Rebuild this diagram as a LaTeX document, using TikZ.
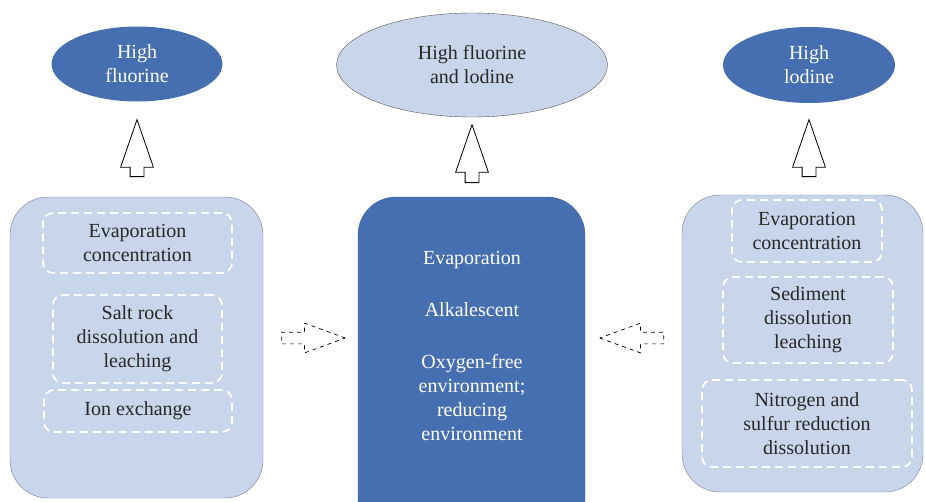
\documentclass[tikz,border=0pt]{standalone}
\usepackage{fontspec}
\setmainfont{Liberation Serif}
\newfontfamily\timesfont{Liberation Serif}
\usetikzlibrary{shapes.geometric,shapes.arrows}
\definecolor{darkfill}{RGB}{70,111,177}
\definecolor{lightfill}{RGB}{201,213,234}
\definecolor{boxedge}{RGB}{120,130,150}
\definecolor{textgray}{RGB}{40,40,40}
\begin{document}
\begin{tikzpicture}[x=1pt,y=-1pt,
  every node/.style={font=\timesfont\fontsize{20}{24}\selectfont,align=center},
  lightbox/.style={draw=boxedge,fill=lightfill,rounded corners=38pt},
  darkbox/.style={draw=darkfill!92!black,fill=darkfill,rounded corners=38pt},
  dashbox/.style={draw=white,line width=1.8pt,dash pattern=on 8pt off 5pt,rounded corners=10pt,text=textgray},
  goaldark/.style={ellipse,fill=darkfill,text=white,inner sep=0pt},
  goallight/.style={ellipse,draw=black!65,fill=lightfill,text=textgray,inner sep=0pt},
  uparrow/.style={single arrow,draw=black,fill=white,line width=0.8pt,rotate=90,anchor=tail,
    minimum height=57pt,inner xsep=0pt,inner ysep=6.5pt,single arrow head extend=9.5pt,single arrow tip angle=38},
  sidearrow/.style={single arrow,draw=black,line width=0.7pt,dash pattern=on 4pt off 4pt,anchor=tail,
    minimum height=64pt,inner xsep=0pt,inner ysep=5.5pt,single arrow head extend=9pt,single arrow tip angle=40}]
\useasboundingbox (0,0) rectangle (925,501);
\clip (0,0) rectangle (925,501);

\node[goaldark,minimum width=171pt,minimum height=75pt] (hiF) at (137,64) {High\\fluorine};
\node[goallight,minimum width=271pt,minimum height=104pt] (hiFI) at (472,65) {High fluorine\\and lodine};
\node[goaldark,minimum width=172pt,minimum height=76pt] (hiI) at (809,65) {High\\lodine};

\node[uparrow] (upF) at (137,177) {};
\node[uparrow,minimum height=58pt] (upFI) at (472,183) {};
\node[uparrow] (upI) at (809,177) {};

\node[lightbox,minimum width=253pt,minimum height=301pt] (boxF) at (136.5,347.5) {};
\node[darkbox,minimum width=227pt,minimum height=340pt] (boxFI) at (471.5,367) {};
\node[lightbox,minimum width=241pt,minimum height=297pt] (boxI) at (802.5,343.5) {};

\node[dashbox,minimum width=189pt,minimum height=60pt] (evapF) at (137.5,243) {Evaporation\\concentration};
\node[dashbox,minimum width=169pt,minimum height=88pt] (saltF) at (137.5,339) {Salt rock\\dissolution and\\leaching};
\node[dashbox,minimum width=188pt,minimum height=42pt] (ionF) at (138,411) {Ion exchange};

\node[text=white] (evapM) at (472,260) {Evaporation};
\node[text=white] (alkM) at (472,310) {Alkalescent};
\node[text=white] (redM) at (472,398) {Oxygen-free\\environment;\\reducing\\environment};

\node[dashbox,minimum width=150pt,minimum height=62pt] (evapI) at (807,231) {Evaporation\\concentration};
\node[dashbox,minimum width=170pt,minimum height=86pt] (sedI) at (808,320) {Sediment\\dissolution\\leaching};
\node[dashbox,minimum width=210pt,minimum height=87pt] (nsI) at (807,423.5) {Nitrogen and\\sulfur reduction\\dissolution};

\node[sidearrow] (toM) at (281,338) {};
\node[sidearrow,rotate=180] (fromI) at (664,338) {};

\end{tikzpicture}
\end{document}
